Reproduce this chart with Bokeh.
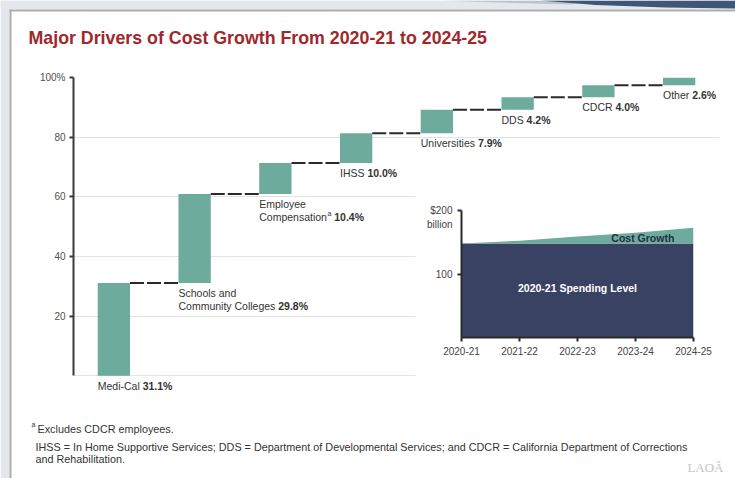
import numpy as np
from bokeh.plotting import figure
from bokeh.models import Range1d, FixedTicker, LabelSet, Label, ColumnDataSource
from bokeh.layouts import column
from bokeh.core.properties import value
from bokeh.embed import file_html
from bokeh.resources import INLINE

# ---------------- data ----------------
categories = ["Medi-Cal", "Schools and\nCommunity Colleges", "Employee\nCompensation",
              "IHSS", "Universities", "DDS", "CDCR", "Other"]
shares = [31.1, 29.8, 10.4, 10.0, 7.9, 4.2, 4.0, 2.6]
footnote_marks = ["", "", "a", "", "", "", "", ""]
y_ticks = [20, 40, 60, 80, 100]
y_tick_labels = ["20", "40", "60", "80", "100%"]

years = ["2020-21", "2021-22", "2022-23", "2023-24", "2024-25"]
base_spending = [148, 148, 148, 148, 148]
total_spending = [148, 152.5, 159, 165, 173]
inset_ticks = [100, 200]
inset_tick_labels = ["100", "$200"]

title_text = "Major Drivers of Cost Growth From 2020-21 to 2024-25"
footnote_a = "Excludes CDCR employees."
footnote_lines = ["IHSS = In Home Supportive Services; DDS = Department of Developmental Services; and CDCR = California Department of Corrections",
                  "and Rehabilitation."]

# ---------------- style ----------------
TEAL = "#6dab9c"
NAVY = "#3a4264"
RED = "#a0282b"
TXT = "#333333"
FONT = "Liberation Sans"
BG = "#e4e7eb"

W, H = 735, 478
FL, FR, FT, FB = 73, 719, 77, 375  # main frame: left, right, top (100%), zero line (px)
Y_LO = -7                              # room below zero for the first bar label
MB_BOTTOM = 82
FH = H - MB_BOTTOM - FT
SCALE = FH / (100 - Y_LO)

ARIAL = {" ": 278, "%": 889, "-": 333, ".": 278, ";": 278, "=": 584,
         "A": 667, "B": 667, "C": 722, "D": 722, "E": 667, "F": 611, "G": 778, "H": 722,
         "I": 278, "J": 500, "K": 667, "L": 556, "M": 833, "N": 722, "O": 778, "P": 667,
         "Q": 778, "R": 722, "S": 667, "T": 611, "U": 722, "V": 667, "W": 944, "X": 667,
         "Y": 667, "Z": 611,
         "a": 556, "b": 556, "c": 500, "d": 556, "e": 556, "f": 278, "g": 556, "h": 556,
         "i": 222, "j": 222, "k": 500, "l": 222, "m": 833, "n": 556, "o": 556, "p": 556,
         "q": 556, "r": 333, "s": 500, "t": 278, "u": 556, "v": 500, "w": 722, "x": 500,
         "y": 500, "z": 500}
for d in "0123456789":
    ARIAL[d] = 556


def tw(s, size):
    return sum(ARIAL.get(c, 556) for c in s) / 1000.0 * size


# ---------------- background page (title, notes, frame) ----------------
bg = figure(width=W, height=H, x_range=Range1d(0, W), y_range=Range1d(H, 0),
            min_border_left=0, min_border_right=0, min_border_top=0, min_border_bottom=0,
            x_axis_location=None, y_axis_location=None, frame_align=False,
            output_backend="svg", toolbar_location=None)
bg.xgrid.visible = False
bg.ygrid.visible = False
bg.outline_line_color = None
bg.background_fill_color = "white"
bg.border_fill_color = "white"
bg.quad(left=[0, 0], right=[9, W], top=[0, 0], bottom=[H, 9], fill_color=BG, line_color=None)
bg.quad(left=[9, 9], right=[11, W], top=[9, 9], bottom=[H, 11], fill_color="#adadad",
        line_color=None)
bg.patch(x=[440, 600, 570, 500], y=[0, 0, 4, 2], fill_color="#b9c4d0", line_color=None)
bg.patch(x=[540, W, W, 665, 595], y=[0, 0, 8, 7, 4.5], fill_color="#3f5676", line_color=None)

bg.add_layout(Label(x=28, y=37, text=title_text, text_font=FONT, text_font_size="17.8px",
                    text_font_style="bold", text_color=RED, text_baseline="alphabetic",
                    text_align="left"))
bg.add_layout(Label(x=31, y=424, text="a", text_font=FONT, text_font_size="7px",
                    text_color=TXT, text_baseline="alphabetic", text_align="left"))
bg.add_layout(Label(x=37, y=428, text=footnote_a, text_font=FONT, text_font_size="10.8px",
                    text_color=TXT, text_baseline="alphabetic", text_align="left"))
for k, line in enumerate(footnote_lines):
    bg.add_layout(Label(x=35, y=446 + 12 * k, text=line, text_font=FONT,
                        text_font_size="10.8px", text_color=TXT,
                        text_baseline="alphabetic", text_align="left"))
bg.add_layout(Label(x=723, y=467, text="LAOÂ", text_font="Liberation Serif",
                    text_font_size="13px", text_color="#c4c4c4",
                    text_baseline="alphabetic", text_align="right"))

# ---------------- main waterfall ----------------
n = len(shares)
ends = np.cumsum(shares)
starts = ends - np.array(shares)
centers = np.arange(n) + 0.5
BW = 0.4

p = figure(width=W, height=H, x_range=Range1d(0, n), y_range=Range1d(Y_LO, 100),
           min_border_left=FL, min_border_right=W - FR, min_border_top=FT,
           min_border_bottom=MB_BOTTOM, frame_align=False,
           output_backend="svg", toolbar_location=None)
p.margin = (-H, 0, 0, 0)
p.outline_line_color = None
p.background_fill_color = "white"
p.border_fill_alpha = 0
p.xaxis.visible = False
p.xgrid.visible = False
p.ygrid.ticker = FixedTicker(ticks=[0] + y_ticks)
p.ygrid.grid_line_color = "#e3e3e3"
p.ygrid.grid_line_width = 1

ax = p.yaxis[0]
ax.bounds = (0, 100)
ax.ticker = FixedTicker(ticks=y_ticks)
ax.major_label_overrides = {t: l for t, l in zip(y_ticks, y_tick_labels)}
ax.axis_line_color = "#3a3a3a"
ax.axis_line_width = 2
ax.major_tick_line_color = "#3a3a3a"
ax.major_tick_line_width = 2
ax.major_tick_out = 4
ax.major_tick_in = 0
ax.minor_tick_line_color = None
ax.major_label_standoff = 4
ax.major_label_text_font = FONT
ax.major_label_text_font_size = "10px"
ax.major_label_text_color = "#505050"


def dx(px):
    return (px - FL) / (FR - FL) * n


def dy(py):
    return 100 - (py - FT) / SCALE


# white panel behind the inset (hides the grid lines there)
IL, IT, IW, IH = 415, 189, 305, 190
p.quad(left=[dx(IL)], right=[dx(W)], top=[dy(IT)], bottom=[dy(IT + IH)],
       fill_color="white", line_color=None)

p.vbar(x=centers, width=BW, bottom=starts, top=ends, fill_color=TEAL, line_color=None)
p.segment(x0=centers[:-1] + BW / 2, y0=ends[:-1], x1=centers[1:] - BW / 2, y1=ends[:-1],
          line_color="#2a2a2a", line_width=2, line_dash="14 3")

LS = 10.5
name_rows = dict(x=[], y=[], text=[], xo=[], yo=[])
val_rows = dict(x=[], y=[], text=[], xo=[], yo=[])
mark_rows = dict(x=[], y=[], text=[], xo=[], yo=[])
for i, name in enumerate(categories):
    lines = name.split("\n")
    left = centers[i] - BW / 2
    for j, line in enumerate(lines):
        name_rows["x"].append(left); name_rows["y"].append(starts[i])
        name_rows["text"].append(line); name_rows["xo"].append(0)
        name_rows["yo"].append(-(4 + 13 * j))
    last_off = -(4 + 13 * (len(lines) - 1))
    w = tw(lines[-1], LS)
    if footnote_marks[i]:
        mark_rows["x"].append(left); mark_rows["y"].append(starts[i])
        mark_rows["text"].append(footnote_marks[i]); mark_rows["xo"].append(w + 0.5)
        mark_rows["yo"].append(last_off + 1)
        w += tw(footnote_marks[i], 7) + 0.5
    val_rows["x"].append(left); val_rows["y"].append(starts[i])
    val_rows["text"].append(f"{shares[i]:.1f}%"); val_rows["xo"].append(w + tw(" ", LS))
    val_rows["yo"].append(last_off)

common = dict(x="x", y="y", text="text", x_offset="xo", y_offset="yo",
              text_baseline="top", text_align="left", text_color=TXT,
              text_font=value(FONT))
p.add_layout(LabelSet(source=ColumnDataSource(name_rows), text_font_size=f"{LS}px", **common))
p.add_layout(LabelSet(source=ColumnDataSource(val_rows), text_font_size=f"{LS}px",
                      text_font_style="bold", **common))
p.add_layout(LabelSet(source=ColumnDataSource(mark_rows), text_font_size="7px", **common))

# unit note of the inset axis (sits under the transparent inset)
p.add_layout(Label(x=dx(452), y=dy(224), text="billion", text_font=FONT,
                   text_font_size="10px", text_color="#444444",
                   text_align="right", text_baseline="middle"))

# ---------------- inset ----------------
IFL, IFR, IFT, IFB = 461, 693, 210, 337
xi = list(range(len(years)))
inset = figure(width=IW, height=IH, x_range=Range1d(0, len(years) - 1), y_range=Range1d(0, 200),
               min_border_left=IFL - IL, min_border_right=IL + IW - IFR,
               min_border_top=IFT - IT, min_border_bottom=IT + IH - IFB,
               frame_align=False, output_backend="svg", toolbar_location=None)
inset.margin = (IT - H, 0, 0, IL)
inset.outline_line_color = None
inset.background_fill_alpha = 0
inset.border_fill_alpha = 0
inset.xgrid.visible = False
inset.ygrid.ticker = FixedTicker(ticks=inset_ticks)
inset.ygrid.grid_line_color = "#e3e3e3"

inset.varea(x=xi, y1=[0] * len(xi), y2=base_spending, fill_color=NAVY)
inset.varea(x=xi, y1=base_spending, y2=total_spending, fill_color=TEAL)

for a in (inset.xaxis[0], inset.yaxis[0]):
    a.axis_line_color = "#2a2a2a"
    a.axis_line_width = 2
    a.major_tick_line_color = "#2a2a2a"
    a.major_tick_line_width = 2
    a.major_tick_out = 4
    a.major_tick_in = 0
    a.minor_tick_line_color = None
    a.major_label_standoff = 5
    a.major_label_text_font = FONT
    a.major_label_text_font_size = "10px"
    a.major_label_text_color = "#444444"
inset.xaxis[0].ticker = FixedTicker(ticks=xi)
inset.xaxis[0].major_label_overrides = {i: y for i, y in zip(xi, years)}
inset.yaxis[0].ticker = FixedTicker(ticks=inset_ticks)
inset.yaxis[0].major_label_overrides = {t: l for t, l in zip(inset_ticks, inset_tick_labels)}

inset.add_layout(Label(x=3.67, y=156, text="Cost Growth", text_font=FONT,
                       text_font_size="10.5px", text_font_style="bold", text_color="#262e48",
                       text_align="right", text_baseline="middle"))
inset.add_layout(Label(x=2, y=78, text="2020-21 Spending Level", text_font=FONT,
                       text_font_size="10.5px", text_font_style="bold", text_color="white",
                       text_align="center", text_baseline="middle"))

layout = column(bg, p, inset, spacing=0)
open("out.html", "w").write(file_html(layout, INLINE))
